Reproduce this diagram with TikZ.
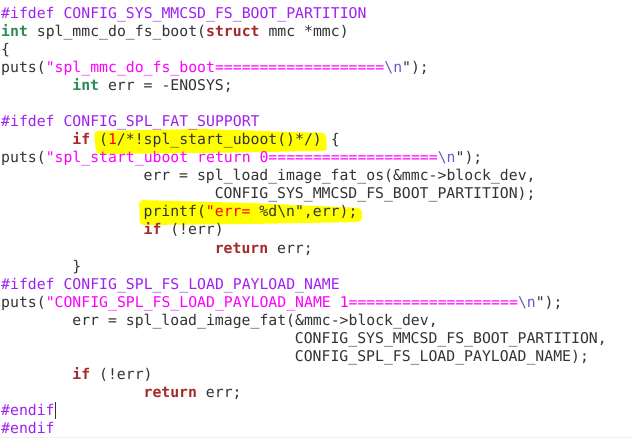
\documentclass[tikz,border=0pt]{standalone}
\usepackage{fontspec}
\setmonofont{DejaVu Sans Mono}
\usetikzlibrary{positioning}
\definecolor{codetext}{HTML}{333333}
\definecolor{prep}{HTML}{A020F0}
\definecolor{keyw}{HTML}{A52A2A}
\definecolor{typec}{HTML}{2E8B57}
\definecolor{strc}{HTML}{FF00FF}
\definecolor{escc}{HTML}{6A5ACD}
\definecolor{numc}{HTML}{FF0000}
\definecolor{mark}{HTML}{FFFF00}
\newcommand{\cpre}[1]{\textcolor{prep}{#1}}
\newcommand{\ckey}[1]{\textcolor{keyw}{\bfseries #1}}
\newcommand{\ctype}[1]{\textcolor{typec}{\bfseries #1}}
\newcommand{\cstr}[1]{\textcolor{strc}{#1}}
\newcommand{\cesc}[1]{\textcolor{escc}{#1}}
\newcommand{\cnum}[1]{\textcolor{numc}{#1}}
\frenchspacing

\begin{document}
\begin{tikzpicture}[x=8.9pt, y=-18pt,
  code/.style={anchor=base west, inner sep=0pt, text=codetext,
    font=\ttfamily\fontsize{14.8}{18}\selectfont},
  marker/.style={fill=mark, rounded corners=4pt}]
  \fill[white] (-1pt,19pt) rectangle (630pt,-419pt);
  \useasboundingbox (-1pt,19pt) rectangle (630pt,-419pt);
  \fill[gray!12] (-1pt,-418pt) rectangle (630pt,-419pt);
  \fill[marker] (93pt,-112pt) -- (199pt,-110pt) -- (325pt,-114pt)
    -- (326pt,-132pt) -- (199pt,-134pt) -- (95pt,-135pt) -- cycle;
  \fill[marker] (138pt,-181pt) -- (249pt,-184pt) -- (361pt,-189pt)
    -- (361pt,-203pt) -- (249pt,-205pt) -- (139pt,-206pt) -- cycle;
  \node[code] (l1) at (0,0) {\cpre{\#ifdef CONFIG\_SYS\_MMCSD\_FS\_BOOT\_PARTITION}};
  \node[code] (l2) at (0,1) {\ctype{int} spl\_mmc\_do\_fs\_boot(\ckey{struct} mmc *mmc)};
  \node[code] (l3) at (0,2) {\{};
  \node[code] (l4) at (0,3) {puts(\cstr{"spl\_mmc\_do\_fs\_boot===================}\cesc{\textbackslash n}");};
  \node[code] (l5) at (8,4) {\ctype{int} err = -ENOSYS;};
  \node[code] (l7) at (0,6) {\cpre{\#ifdef CONFIG\_SPL\_FAT\_SUPPORT}};
  \node[code] (l8) at (8,7) {\ckey{if} (\cnum{1}/*!spl\_start\_uboot()*/) \{};
  \node[code] (l9) at (0,8) {puts(\cstr{"spl\_start\_uboot return 0===================}\cesc{\textbackslash n}");};
  \node[code] (l10) at (16,9) {err = spl\_load\_image\_fat\_os(\&mmc->block\_dev,};
  \node[code] (l11) at (24,10) {CONFIG\_SYS\_MMCSD\_FS\_BOOT\_PARTITION);};
  \node[code] (l12) at (16,11) {printf(\cnum{"err=}\ \%d\textbackslash n",err);};
  \node[code] (l13) at (16,12) {\ckey{if} (!err)};
  \node[code] (l14) at (24,13) {\ckey{return} err;};
  \node[code] (l15) at (8,14) {\}};
  \node[code] (l16) at (0,15) {\cpre{\#ifdef CONFIG\_SPL\_FS\_LOAD\_PAYLOAD\_NAME}};
  \node[code] (l17) at (0,16) {puts(\cstr{"CONFIG\_SPL\_FS\_LOAD\_PAYLOAD\_NAME 1===================}\cesc{\textbackslash n}");};
  \node[code] (l18) at (8,17) {err = spl\_load\_image\_fat(\&mmc->block\_dev,};
  \node[code] (l19) at (33,18) {CONFIG\_SYS\_MMCSD\_FS\_BOOT\_PARTITION,};
  \node[code] (l20) at (33,19) {CONFIG\_SPL\_FS\_LOAD\_PAYLOAD\_NAME);};
  \node[code] (l21) at (8,20) {\ckey{if} (!err)};
  \node[code] (l22) at (16,21) {\ckey{return} err;};
  \node[code] (l23) at (0,22) {\cpre{\#endif}};
  \node[code] (l24) at (0,23) {\cpre{\#endif}};
  \draw[codetext, line width=1pt] ([xshift=0.6pt, yshift=-4pt]l23.base east)
    -- ([xshift=0.6pt, yshift=13pt]l23.base east);
\end{tikzpicture}
\end{document}
